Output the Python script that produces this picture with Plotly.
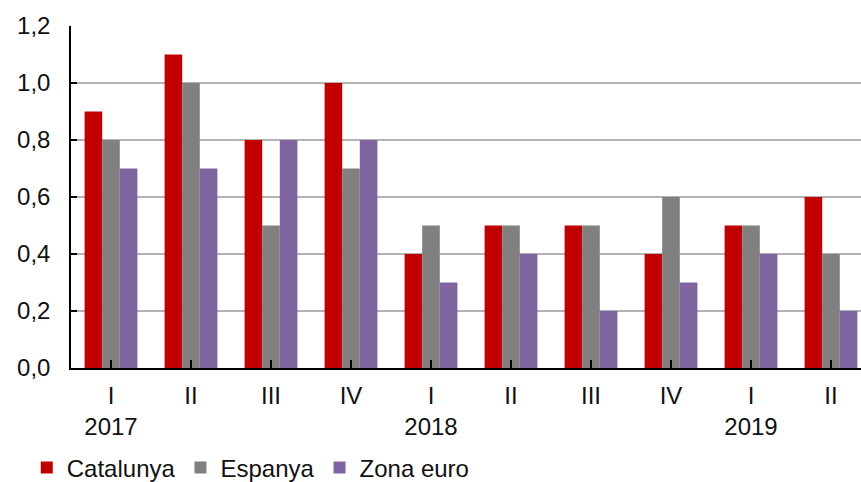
import plotly.graph_objects as go

quarters = ["I", "II", "III", "IV", "I", "II", "III", "IV", "I", "II"]
years = ["2017", "", "", "", "2018", "", "", "", "2019", ""]
catalunya = [0.9, 1.1, 0.8, 1.0, 0.4, 0.5, 0.5, 0.4, 0.5, 0.6]
espanya = [0.8, 1.0, 0.5, 0.7, 0.5, 0.5, 0.5, 0.6, 0.5, 0.4]
zona_euro = [0.7, 0.7, 0.8, 0.8, 0.3, 0.4, 0.2, 0.3, 0.4, 0.2]
y_ticks = [0.0, 0.2, 0.4, 0.6, 0.8, 1.0, 1.2]

x = list(range(len(quarters)))
ticktext = [q + ("<br>" + y if y else "<br> ") for q, y in zip(quarters, years)]

FONT = "Liberation Sans, Arial, sans-serif"
fig = go.Figure()
for name, vals, col in [("Catalunya", catalunya, "#C00000"),
                        ("Espanya", espanya, "#808080"),
                        ("Zona euro", zona_euro, "#8064A2")]:
    fig.add_trace(go.Bar(x=x, y=vals, name=name, marker=dict(color=col, line=dict(width=0))))

fig.update_layout(
    width=861, height=482,
    margin=dict(l=71, r=0, t=26, b=114, autoexpand=False),
    paper_bgcolor="white", plot_bgcolor="white",
    barmode="group", bargap=0.34, bargroupgap=0,
    separators=",.",
    font=dict(family=FONT, size=24, color="#111111"),
    showlegend=True,
    legend=dict(orientation="h", x=-0.056, xanchor="left", y=-0.292, yanchor="middle",
                font=dict(size=24), bgcolor="rgba(0,0,0,0)", traceorder="normal"),
)
fig.update_xaxes(
    range=[-0.5, 9.375], tickmode="array", tickvals=x, ticktext=ticktext,
    tickson="boundaries", ticks="inside", ticklen=8, tickcolor="black", tickwidth=1.5,
    showline=True, linecolor="black", linewidth=1.5, showgrid=False, zeroline=False,
    tickfont=dict(size=24), fixedrange=True, automargin=False, ticklabelstandoff=5,
)
fig.update_yaxes(
    range=[0, 1.2], tickvals=y_ticks, tickformat=".1f",
    ticks="inside", ticklen=6, tickcolor="black", tickwidth=1.5,
    showline=True, linecolor="black", linewidth=1.5,
    showgrid=True, gridcolor="#b3b3b3", gridwidth=1.5, zeroline=False,
    tickfont=dict(size=24), ticklabelstandoff=14, automargin=False,
)
fig.write_html("out.html", config={"displayModeBar": False},
               post_script="document.body.style.margin='0';document.body.style.overflow='hidden';")
